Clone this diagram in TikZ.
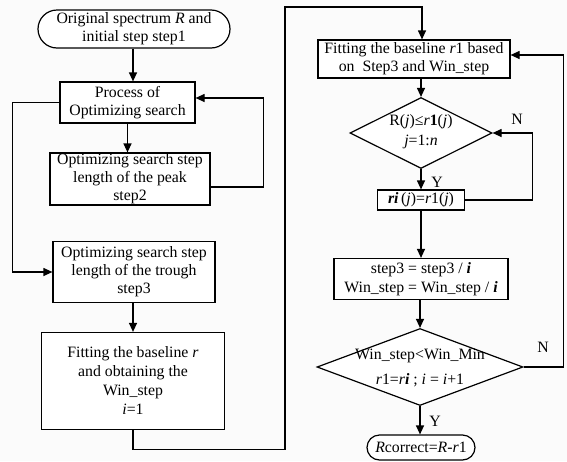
\documentclass[tikz,border=0pt]{standalone}
\usepackage{fontspec}
\setmainfont{Liberation Serif}
\usetikzlibrary{arrows.meta,shapes.geometric}
\tikzset{
  box/.style={draw,line width=1.2pt,align=center,inner sep=0pt,fill=white},
  term/.style={box,rounded corners=#1},
  decision/.style={draw,diamond,line width=1.2pt,inner sep=0pt,fill=white},
  arr/.style={line width=1.2pt,-{Triangle[length=9pt,width=8pt]}},
}

\begin{document}
\begin{tikzpicture}[x=1pt,y=-1pt,font=\fontsize{15.8}{18}\selectfont]
  \path[use as bounding box,fill=gray!3] (0,0) rectangle (567,461);

  % left column
  \node[term=19pt,minimum width=192pt,minimum height=38pt] (start) at (134,29)
    {Original spectrum \textit{R} and\\initial step step1};
  \node[box,minimum width=135pt,minimum height=41pt] (proc) at (127.5,102.5)
    {Process of\\Optimizing search};
  \node[box,minimum width=160pt,minimum height=52pt] (peak) at (130,179)
    {Optimizing search step\\length of the peak\\step2};
  \node[box,minimum width=162pt,minimum height=61pt] (trough) at (134,272)
    {Optimizing search step\\length of the trough\\step3};
  \node[box,minimum width=183pt,minimum height=97pt,font=\fontsize{15.8}{19}\selectfont] (fitr) at (133,381)
    {Fitting the baseline \textit{r}\\and obtaining the\\Win\_step\\\textit{i}=1};

  % right column
  \node[box,minimum width=192pt,minimum height=38pt] (fitr1) at (414,59)
    {Fitting the baseline \textit{r}1 based\\on\ \ Step3 and Win\_step};
  \node[decision,minimum width=142pt,minimum height=71pt] (dia1) at (421,133) {};
  \node[align=center,font=\fontsize{15.8}{20}\selectfont] (dia1txt) at ([yshift=1pt]dia1)
    {R(\textit{j})≤\textit{r}\textbf{1}(\textit{j})\\\textit{j}=1:\textit{n}};
  \node[box,minimum width=87pt,minimum height=20pt] (ri) at (421,200)
    {\textbf{\textit{ri}}\,(\textit{j})=\textit{r}1(\textit{j})};
  \node[box,minimum width=174pt,minimum height=41pt,font=\fontsize{15.8}{19}\selectfont] (upd) at (421,279)
    {step3 = step3 / \textbf{\textit{i}}\\Win\_step = Win\_step / \textbf{\textit{i}}};
  \node[decision,minimum width=206pt,minimum height=77pt] (dia2) at (420,367) {};
  \node[align=center,font=\fontsize{15.8}{25}\selectfont] (dia2txt) at ([yshift=-1pt]dia2)
    {Win\_step<Win\_Min\\\textit{r}1=\textit{r}\textbf{\textit{i}} ; \textit{i} = \textit{i}+1};
  \node[term=12.5pt,minimum width=108pt,minimum height=25pt] (stop) at (421,447.5)
    {\textit{R}correct=\textit{R}-\textit{r}1};

  \node (n1) at (517,119) {N};
  \node (y1) at (437,182) {Y};
  \node (n2) at (543,347) {N};
  \node (y2) at (435,421) {Y};

  % connectors
  \draw[arr] ([xshift=-1pt]start.south) -- ([xshift=-1pt]start.south |- proc.north);
  \draw[arr] (proc.south) -- (proc.south |- peak.north);
  \draw[arr] ([yshift=-8pt]peak.east) -- ++(53,0) |- ([yshift=4.5pt]proc.east);
  \draw[arr] (proc.west) -- ++(-47,0) |- (trough.west);
  \draw[arr] (trough.south -| fitr) -- (fitr.north);
  \draw[arr] (fitr.south) -- ++(0,19) -| (285,7) -| ([xshift=8pt]fitr1.north);
  \draw[arr] ([xshift=7pt]fitr1.south) -- (dia1.north);
  \draw[arr] (dia1.south) -- (ri.north);
  \draw[arr] (ri.east) -- ++(67,0) |- (dia1.east);
  \draw[arr] (ri.south) -- (upd.north);
  \draw[arr] (upd.south -| dia2) -- (dia2.north);
  \draw[arr] (dia2.east) -- ++(40,0) |- ([yshift=4pt]fitr1.east);
  \draw[arr] (dia2.south) -- (dia2.south |- stop.north);
\end{tikzpicture}
\end{document}
